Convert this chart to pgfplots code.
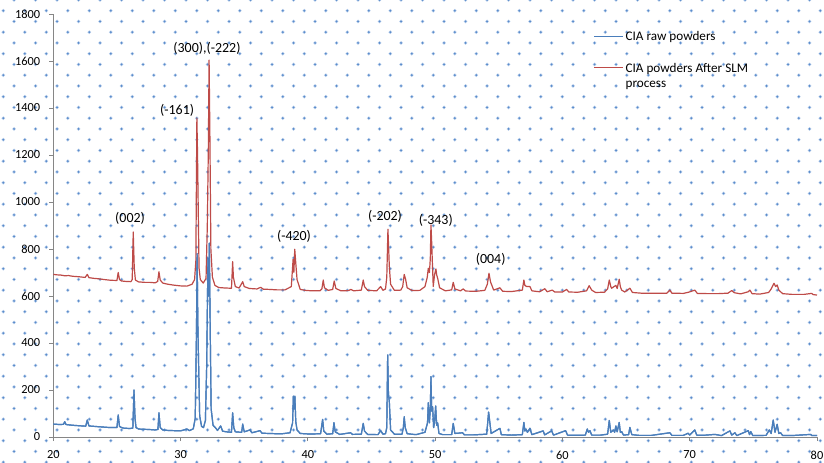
\documentclass[border=0pt]{standalone}
\usepackage{fontspec}
\setmainfont{Carlito}
\usepackage{pgfplots}
\usepackage{pgfplotstable}
\pgfplotsset{compat=1.18}
\usetikzlibrary{patterns}
\definecolor{rawblue}{RGB}{74,126,187}
\definecolor{slmred}{RGB}{190,75,72}
\definecolor{axgray}{RGB}{134,134,134}
\definecolor{dotlight}{RGB}{186,207,235}
\definecolor{dotdark}{RGB}{90,140,204}
\pgfdeclarepatternformonly{bgdotsA}{\pgfpoint{-3bp}{-3bp}}{\pgfpoint{18.5bp}{18.5bp}}{\pgfpoint{21.5bp}{21.5bp}}{%
  \pgfpathcircle{\pgfpoint{3.3bp}{0.8bp}}{1.9bp}%
  \pgfpathcircle{\pgfpoint{14.05bp}{11.55bp}}{1.9bp}%
  \pgfusepath{fill}}
\pgfdeclarepatternformonly{bgdotsB}{\pgfpoint{-3bp}{-3bp}}{\pgfpoint{18.5bp}{18.5bp}}{\pgfpoint{21.5bp}{21.5bp}}{%
  \pgfpathcircle{\pgfpoint{3.3bp}{0.8bp}}{1.1bp}%
  \pgfpathcircle{\pgfpoint{14.05bp}{11.55bp}}{1.1bp}%
  \pgfusepath{fill}}
\pgfplotstableread{
x y
20 55
20.5 53
20.8 54
20.9 65
21.0 53
21.5 50
22 48
22.55 46
22.67 72
22.8 47
23.5 44
24 42
24.5 40
25.0 40
25.1 94
25.2 45
25.3 42
25.5 38
26.0 36
26.25 38
26.34 200
26.42 80
26.5 40
26.7 34
27 33
27.5 32
28.0 30
28.22 32
28.3 103
28.4 40
28.6 30
29 28
29.5 27
30.0 26
30.5 34
30.7 27
31.0 35
31.15 80
31.25 450
31.3 780
31.35 500
31.42 300
31.5 90
31.65 45
31.8 40
31.95 70
32.05 300
32.15 760
32.2 600
32.26 825
32.32 500
32.4 120
32.55 50
32.76 38
32.9 28
33.15 47
33.3 25
33.6 22
34.0 20
34.09 103
34.18 40
34.3 22
34.8 20
34.88 55
35.0 22
35.45 30
35.6 18
36.24 27
36.4 16
37 15
37.5 14
38 14
38.6 18
38.8 60
38.86 174
38.92 120
38.98 174
39.05 65
39.15 30
39.4 15
40 13
40.5 13
41.0 14
41.16 75
41.25 25
41.5 12
41.95 14
42.05 61
42.15 22
42.5 11
43.36 18
43.5 11
44.2 12
44.35 58
44.45 25
44.7 11
45.5 10
45.72 27
45.9 12
46.1 14
46.2 40
46.27 349
46.33 186
46.4 150
46.5 30
46.8 12
47.4 12
47.5 40
47.57 86
47.65 40
47.8 14
48.5 10
49.2 20
49.4 60
49.46 146
49.55 60
49.62 120
49.67 257
49.73 110
49.8 129
49.88 40
49.95 60
50.04 132
50.12 50
50.2 60
50.3 15
50.6 10
51.3 10
51.42 58
51.55 15
52.16 18
52.3 9
53 9
54.05 12
54.2 106
54.3 60
54.4 15
55.09 37
55.2 10
56 8
56.85 10
56.97 62
57.05 25
57.13 34
57.25 20
57.45 37
57.6 10
58.49 26
58.6 9
59.15 26
59.3 8
60.25 27
60.4 8
61 7
61.8 8
61.95 34
62.05 20
62.16 27
62.3 8
63.0 8
63.55 12
63.68 70
63.8 20
64.0 30
64.1 20
64.2 47
64.3 22
64.46 62
64.55 20
64.65 23
64.8 8
65.2 10
65.3 41
65.45 10
66 7
67 7
68.44 18
68.6 7
69.5 7
69.88 16
70.0 8
70.4 30
70.55 8
71 7
71.98 11
72.5 6
73.16 26
73.3 8
73.55 18
73.7 6
74.6 27
74.7 10
74.8 23
74.95 6
76 7
76.25 30
76.4 15
76.56 72
76.7 20
76.87 54
77.0 15
77.14 18
77.3 6
78 6
79.5 11
79.6 6
80 6
}\rawdata
\begin{document}
\begin{tikzpicture}
\fill[white] (-53.3bp,-26bp) rectangle (770.7bp,437bp);
\fill[pattern=bgdotsA, pattern color=dotlight] (-53.3bp,-26bp) rectangle (770.7bp,437bp);
\fill[pattern=bgdotsB, pattern color=dotdark] (-53.3bp,-26bp) rectangle (770.7bp,437bp);
\begin{axis}[
  at={(0,0)}, anchor=south west,
  scale only axis, width=763.7bp, height=423bp,
  xmin=20, xmax=80, ymin=0, ymax=1800,
  axis lines=left,
  axis line style={axgray, line width=0.8bp, -},
  tick style={axgray, line width=0.8bp},
  tick align=outside, major tick length=4bp,
  xtick={20,30,...,80}, ytick={0,200,...,1800},
  /pgf/number format/assume math mode=true,
  /pgf/number format/1000 sep={},
  tick label style={font=\fontsize{12.4}{14}\selectfont, text=black},
  yticklabel style={anchor=east, inner sep=0pt, xshift=-9bp},
  xticklabel style={anchor=north, inner sep=0pt, yshift=-9.5bp},
  legend cell align=left,
  legend style={at={(0.703,0.969)}, anchor=north west, draw=none, fill=none,
    font=\fontsize{13.2}{15.7}\selectfont, row sep=15.5bp, column sep=0bp},
]
\addplot[rawblue, line width=1.2bp, line join=round,
  legend image code/.code={\draw[rawblue, line width=1.3bp] (0bp,0bp) -- (29bp,0bp);}]
  table[x=x, y=y] {\rawdata};
\addlegendentry{CIA raw powders}
\addplot[slmred, line width=1.2bp, line join=round,
  legend image code/.code={\draw[slmred, line width=1.3bp] (0bp,0bp) -- (29bp,0bp);}] coordinates {
(20,692)(20.3,690)(20.6,689)(20.9,686)(21.2,687)(21.5,684)(22,682)(22.5,679)(22.67,692)(22.8,678)(23.2,675)(23.6,673)(24,670)(24.5,667)(25.0,666)(25.1,700)(25.2,670)(25.35,664)(25.7,662)(26.1,661)(26.2,670)(26.28,872)(26.36,720)(26.45,668)(26.7,660)(27.2,658)(27.6,658)(28.0,656)(28.2,662)(28.3,703)(28.4,668)(28.6,655)(29,650)(29.5,646)(30,643)(30.5,642)(30.9,650)(31.1,670)(31.2,750)(31.28,1357)(31.33,1210)(31.38,1000)(31.45,720)(31.55,670)(31.78,655)(32.0,675)(32.1,900)(32.18,1221)(32.24,1604)(32.3,1300)(32.38,800)(32.5,680)(32.7,645)(33,636)(33.5,634)(34.0,633)(34.09,746)(34.15,680)(34.3,640)(34.6,634)(34.88,661)(35.0,640)(35.4,632)(36.0,630)(36.29,637)(36.5,629)(37,628)(37.6,626)(38.2,626)(38.7,640)(38.84,756)(38.9,700)(38.97,799)(39.05,740)(39.15,670)(39.4,628)(39.8,624)(40.3,622)(40.95,622)(41.1,630)(41.21,668)(41.3,635)(41.6,624)(41.95,628)(42.07,664)(42.2,632)(42.6,622)(43.2,623)(43.38,628)(43.6,622)(44.2,625)(44.35,668)(44.45,640)(44.7,624)(45.4,622)(45.72,640)(45.9,624)(46.1,630)(46.2,680)(46.29,884)(46.35,800)(46.4,725)(46.5,650)(46.8,624)(47.3,625)(47.45,640)(47.57,692)(47.68,671)(47.8,635)(48.2,623)(48.8,624)(49.2,640)(49.38,680)(49.46,718)(49.55,700)(49.62,760)(49.67,902)(49.72,840)(49.77,760)(49.85,640)(49.95,690)(50.06,715)(50.12,690)(50.2,675)(50.35,635)(50.8,622)(51.3,626)(51.42,658)(51.55,630)(52.0,622)(52.2,630)(52.4,621)(53.2,620)(53.9,624)(54.1,650)(54.23,697)(54.35,660)(54.6,625)(55.09,635)(55.3,620)(56,619)(56.85,625)(56.97,668)(57.05,645)(57.2,640)(57.45,640)(57.6,622)(58.2,618)(58.62,631)(58.8,618)(59.2,625)(59.4,617)(60.0,617)(60.33,628)(60.5,617)(61.2,616)(61.9,622)(62.1,644)(62.3,625)(62.6,615)(63.3,616)(63.55,630)(63.68,668)(63.8,640)(63.87,633)(64.05,640)(64.2,645)(64.3,632)(64.46,671)(64.55,640)(64.65,625)(64.9,617)(65.3,633)(65.5,615)(66.2,612)(67,612)(68.2,612)(68.44,625)(68.6,612)(69.5,611)(69.9,616)(70.4,625)(70.6,611)(71.5,610)(72.2,610)(73,612)(73.3,623)(73.5,614)(74,609)(74.6,618)(74.73,625)(74.9,610)(75.5,608)(76.2,615)(76.4,630)(76.62,654)(76.75,640)(76.87,647)(77.0,625)(77.3,610)(78,607)(79,607)(79.58,611)(79.7,606)(80,604)
};
\addlegendentry{\begin{tabular}[t]{@{}l@{}}CIA powders After SLM\\process\end{tabular}}
\addplot[rawblue, line width=1.2bp, line join=round, forget plot] table[x=x, y=y] {\rawdata};
\begin{scope}[every node/.style={font=\fontsize{14}{16}\selectfont, inner sep=0pt}]
\node at (axis cs:26.03,932) {(002)};
\node at (axis cs:29.73,1391) {(-161)};
\node at (axis cs:32.07,1655) {(300),(-222)};
\node at (axis cs:38.91,855) {(-420)};
\node at (axis cs:46.06,940) {(-202)};
\node at (axis cs:50.05,920) {(-343)};
\node at (axis cs:54.36,755) {(004)};
\end{scope}
\end{axis}
\pgfresetboundingbox
\useasboundingbox (-53.3bp,-26bp) rectangle (770.7bp,437bp);
\end{tikzpicture}
\end{document}
